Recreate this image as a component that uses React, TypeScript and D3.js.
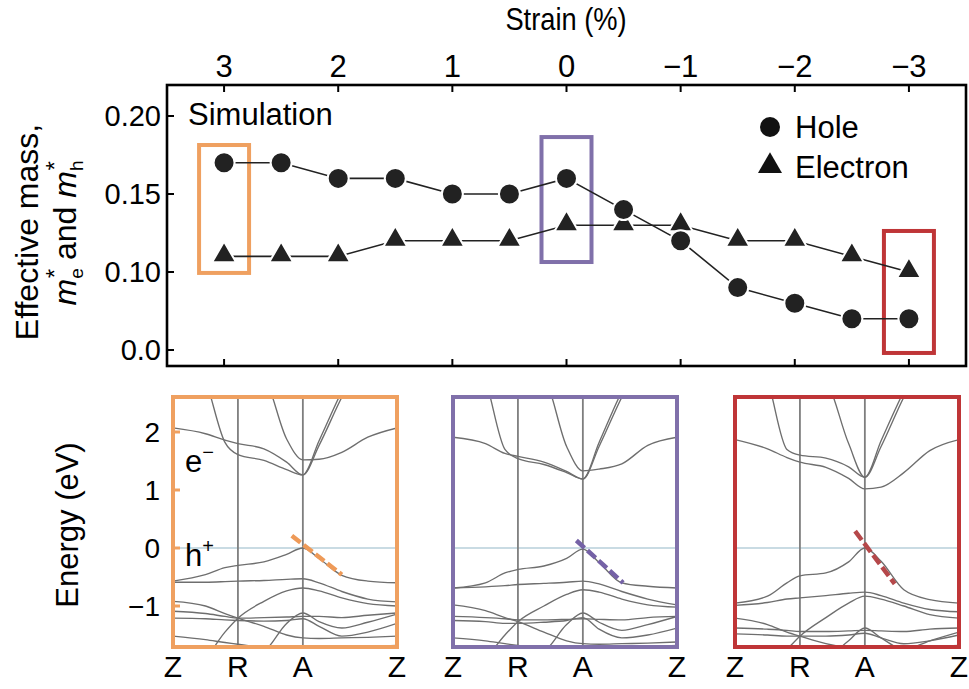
import React from 'react';
import * as d3 from 'd3';

// ---- top panel data (effective mass vs strain) ----
const strain = [3, 2.5, 2, 1.5, 1, 0.5, 0, -0.5, -1, -1.5, -2, -2.5, -3];
const holeMass = [0.17, 0.17, 0.16, 0.16, 0.15, 0.15, 0.16, 0.14, 0.12, 0.09, 0.08, 0.07, 0.07];
const electronMass = [0.11, 0.11, 0.11, 0.12, 0.12, 0.12, 0.13, 0.13, 0.13, 0.12, 0.12, 0.11, 0.1];
const strainTicks = [3, 2, 1, 0, -1, -2, -3];
const strainTickLabels = ['3', '2', '1', '0', '\u22121', '\u22122', '\u22123'];
const massTicks = [0.05, 0.1, 0.15, 0.2];
const massTickLabels = ['0.0', '0.10', '0.15', '0.20'];

// highlighted strain points: [strain, mass low, mass high]
const highlightStrain = [3, 0, -3];
const highlightLow = [0.0994, 0.1064, 0.0481];
const highlightHigh = [0.1814, 0.1865, 0.1263];
const panelColors = ['#EFA060', '#8070AA', '#BF3537'];
const dashColors = ['#EE9A58', '#7562A6', '#B5484A'];

// ---- bottom panels: band structures along Z-R-A-Z ----
const kPath = [0, 0.5, 0.8, 1, 1.4, 1.75, 2, 2.25, 2.6, 3.0, 3.45];
const kSymbols = [0, 1, 2, 3.45];
const kLabels = ['Z', 'R', 'A', 'Z'];
const energyTicks = [2, 1, 0, -1];
const energyTickLabels = ['2', '1', '0', '\u22121'];

const bandsTensile = [
  [2.07, 1.97, 1.86, 1.8, 1.71, 1.48, 1.26, 1.77, 2.6, 3.4, 4.0],
  [3.8, 2.9, 1.82, 1.61, 1.51, 1.35, 1.26, 1.85, 2.7, 3.5, 4.0],
  [4.0, 3.8, 3.5, 3.2, 2.95, 1.88, 1.52, 1.53, 1.65, 1.91, 2.07],
  [-0.57, -0.46, -0.34, -0.3, -0.24, -0.11, 0.0, -0.18, -0.47, -0.57, -0.6],
  [-0.59, -0.59, -0.58, -0.57, -0.56, -0.54, -0.53, -0.6, -0.75, -0.88, -0.93],
  [-2.2, -1.9, -1.45, -1.21, -0.92, -0.74, -0.69, -0.74, -0.86, -0.96, -1.0],
  [-0.92, -1.0, -1.13, -1.21, -1.35, -1.5, -1.55, -1.56, -1.55, -1.54, -1.52],
  [-1.09, -1.13, -1.18, -1.21, -1.2, -1.19, -1.18, -1.18, -1.2, -1.16, -1.12],
  [-1.95, -1.95, -1.93, -1.9, -1.78, -1.3, -1.12, -1.27, -1.38, -1.28, -1.14],
  [-1.21, -1.22, -1.24, -1.25, -1.26, -1.25, -1.22, -1.35, -1.52, -1.45, -1.3],
  [-1.52, -1.58, -1.63, -1.66, -1.72, -1.76, -1.78, -1.76, -1.72, -1.7, -1.68],
];

const bandsZero = [
  [1.91, 1.8, 1.63, 1.58, 1.48, 1.32, 1.19, 1.75, 2.6, 3.4, 4.0],
  [3.8, 2.9, 1.7, 1.54, 1.44, 1.3, 1.19, 1.82, 2.7, 3.5, 4.0],
  [4.0, 3.8, 3.5, 3.2, 2.95, 1.75, 1.33, 1.36, 1.45, 1.77, 1.91],
  [-0.69, -0.6, -0.43, -0.37, -0.31, -0.18, -0.02, -0.25, -0.6, -0.66, -0.69],
  [-0.69, -0.67, -0.65, -0.63, -0.61, -0.59, -0.57, -0.62, -0.75, -0.88, -0.98],
  [-2.2, -1.9, -1.5, -1.27, -1.0, -0.8, -0.72, -0.76, -0.88, -0.98, -1.02],
  [-0.98, -1.08, -1.2, -1.27, -1.45, -1.6, -1.65, -1.66, -1.65, -1.64, -1.62],
  [-1.18, -1.2, -1.22, -1.24, -1.24, -1.23, -1.22, -1.23, -1.24, -1.2, -1.18],
  [-1.95, -1.95, -1.93, -1.9, -1.78, -1.32, -1.12, -1.28, -1.42, -1.32, -1.18],
  [-1.25, -1.27, -1.3, -1.3, -1.28, -1.25, -1.2, -1.4, -1.55, -1.5, -1.38],
  [-1.55, -1.6, -1.65, -1.68, -1.72, -1.75, -1.77, -1.75, -1.72, -1.7, -1.68],
];

const bandsCompressive = [
  [1.87, 1.71, 1.56, 1.48, 1.39, 1.2, 1.02, 1.05, 1.3, 1.68, 1.87],
  [3.8, 2.9, 1.7, 1.6, 1.55, 1.4, 1.22, 1.75, 2.6, 3.4, 4.0],
  [4.0, 3.8, 3.5, 3.2, 2.9, 1.8, 1.22, 1.85, 2.7, 3.5, 4.0],
  [-0.95, -0.83, -0.6, -0.48, -0.43, -0.24, 0.0, -0.23, -0.72, -0.89, -0.95],
  [-0.99, -0.94, -0.88, -0.86, -0.82, -0.78, -0.76, -0.82, -0.95, -1.06, -1.1],
  [-2.4, -2.1, -1.75, -1.52, -1.2, -0.95, -0.83, -0.88, -1.0, -1.15, -1.21],
  [-1.21, -1.32, -1.45, -1.52, -1.65, -1.72, -1.75, -1.74, -1.72, -1.7, -1.68],
  [-1.38, -1.4, -1.42, -1.44, -1.44, -1.43, -1.42, -1.43, -1.44, -1.4, -1.38],
  [-2.2, -2.2, -2.1, -2.0, -1.9, -1.6, -1.38, -1.55, -1.75, -1.6, -1.45],
  [-1.48, -1.5, -1.52, -1.52, -1.52, -1.5, -1.47, -1.55, -1.65, -1.6, -1.5],
];

const panelBands = [bandsTensile, bandsZero, bandsCompressive];

// dashed effective-mass fits near A: [k start, k end], [E start, E end]
const fitK = [[1.83, 2.6], [1.9, 2.62], [1.85, 2.46]];
const fitE = [[0.21, -0.46], [0.13, -0.6], [0.29, -0.62]];

const FONT = 'Liberation Sans, Arial, Helvetica, sans-serif';

export default function App() {
  const W = 969;
  const H = 689;

  // top panel frame
  const fL = 167, fR = 966, fT = 85, fB = 366;
  const x = d3.scaleLinear().domain([3.5, -3.5]).range([fL, fR]);
  const y = d3.scaleLinear().domain([0.05, 0.2]).range([350, 116]);

  const holePts = strain.map((s, i) => [x(s), y(holeMass[i])] as [number, number]);
  const elecPts = strain.map((s, i) => [x(s), y(electronMass[i])] as [number, number]);
  const line = d3.line();
  const tri = d3.symbol().type(d3.symbolTriangle).size(250);

  // bottom panels
  const panelLeft = [173, 453, 735];
  const panelW = 224;
  const pT = 397, pB = 647;
  const ey = d3.scaleLinear().domain([-1, 2]).range([606, 432]);

  return (
    <svg width={W} height={H} style={{ position: 'absolute', left: 0, top: 0, background: '#fff' }}
      fontFamily={FONT}>
      <rect width={W} height={H} fill="#fff" />

      {/* ---------- top panel ---------- */}
      <text transform="translate(566,30) scale(0.88,1)" fontSize={31} textAnchor="middle">Strain (%)</text>
      {strainTicks.map((s, i) => (
        <g key={'st' + i}>
          <text x={x(s)} y={77} fontSize={31} textAnchor="middle">{strainTickLabels[i]}</text>
          <line x1={x(s)} x2={x(s)} y1={fT} y2={fT + 7} stroke="#000" strokeWidth={2} />
          <line x1={x(s)} x2={x(s)} y1={fB} y2={fB - 7} stroke="#000" strokeWidth={2} />
        </g>
      ))}
      {massTicks.map((m, i) => (
        <g key={'mt' + i}>
          <text x={161} y={y(m) + 10} fontSize={29} textAnchor="end">{massTickLabels[i]}</text>
          <line x1={fL} x2={fL + 7} y1={y(m)} y2={y(m)} stroke="#000" strokeWidth={2} />
        </g>
      ))}
      <rect x={fL} y={fT} width={fR - fL} height={fB - fT} fill="none" stroke="#000" strokeWidth={2.6} />

      <text transform="translate(38,232) rotate(-90)" fontSize={32} textAnchor="middle">Effective mass,</text>
      <text transform="translate(76,233) rotate(-90)" fontSize={32} textAnchor="middle">
        <tspan fontStyle="italic">m</tspan>
        <tspan fontSize={19} dy={7}>e</tspan>
        <tspan fontSize={24} dx={-10} dy={-20}>*</tspan>
        <tspan dy={13}> and </tspan>
        <tspan fontStyle="italic">m</tspan>
        <tspan fontSize={19} dy={7}>h</tspan>
        <tspan fontSize={24} dx={-10} dy={-20}>*</tspan>
      </text>

      <text x={188} y={125} fontSize={31}>Simulation</text>

      {highlightStrain.map((s, i) => (
        <rect key={'hl' + i} x={x(s) - 25} y={y(highlightHigh[i])} width={50}
          height={y(highlightLow[i]) - y(highlightHigh[i])}
          fill="none" stroke={panelColors[i]} strokeWidth={4} />
      ))}

      <path d={line(elecPts) || ''} fill="none" stroke="#222" strokeWidth={1.6} />
      <path d={line(holePts) || ''} fill="none" stroke="#222" strokeWidth={1.6} />
      {elecPts.map((p, i) => (
        <path key={'e' + i} d={tri() || ''} transform={`translate(${p[0]},${p[1] - 1})`}
          fill="#222" stroke="#fff" strokeWidth={2} />
      ))}
      {holePts.map((p, i) => (
        <circle key={'h' + i} cx={p[0]} cy={p[1]} r={10.5} fill="#222" stroke="#fff" strokeWidth={2} />
      ))}

      {/* legend */}
      <circle cx={770} cy={127} r={10} fill="#111" />
      <text x={795} y={138} fontSize={31}>Hole</text>
      <path d={tri() || ''} transform="translate(770,166)" fill="#111" />
      <text x={795} y={178} fontSize={31}>Electron</text>

      {/* ---------- bottom panels ---------- */}
      <text transform="translate(78,525) rotate(-90)" fontSize={31} textAnchor="middle">Energy (eV)</text>
      {energyTicks.map((e, i) => (
        <text key={'et' + i} x={160} y={ey(e) + 10} fontSize={28} textAnchor="end">{energyTickLabels[i]}</text>
      ))}

      {panelBands.map((bands, p) => {
        const left = panelLeft[p];
        const kx = d3.scaleLinear().domain([0, 3.45]).range([left, left + panelW]);
        const band = d3.line<number>()
          .x((_, i) => kx(kPath[i]))
          .y(d => ey(d))
          .curve(d3.curveMonotoneX);
        const clipId = 'clip' + p;
        return (
          <g key={'panel' + p}>
            <defs>
              <clipPath id={clipId}>
                <rect x={left} y={pT} width={panelW} height={pB - pT} />
              </clipPath>
            </defs>
            <g clipPath={`url(#${clipId})`}>
              <line x1={left} x2={left + panelW} y1={ey(0)} y2={ey(0)} stroke="#c9dbe3" strokeWidth={1.8} />
              {kSymbols.slice(1, 3).map((k, i) => (
                <line key={'v' + i} x1={kx(k)} x2={kx(k)} y1={pT} y2={pB} stroke="#7e7e7e" strokeWidth={1.8} />
              ))}
              {bands.map((b, i) => (
                <path key={'b' + i} d={band(b) || ''} fill="none" stroke="#6e6e6e" strokeWidth={1.35} />
              ))}
              <line x1={kx(fitK[p][0])} y1={ey(fitE[p][0])} x2={kx(fitK[p][1])} y2={ey(fitE[p][1])}
                stroke={dashColors[p]} strokeWidth={4.5} strokeDasharray="11 4" />
            </g>
            {p === 0 && energyTicks.map((e, i) => (
              <line key={'tk' + i} x1={left} x2={left + 7} y1={ey(e)} y2={ey(e)} stroke={panelColors[0]} strokeWidth={3} />
            ))}
            <rect x={left} y={pT} width={panelW} height={pB - pT} fill="none" stroke={panelColors[p]} strokeWidth={4} />
            {kSymbols.map((k, i) => (
              <text key={'kl' + i} x={kx(k)} y={677} fontSize={30} textAnchor="middle">{kLabels[i]}</text>
            ))}
          </g>
        );
      })}

      <text x={185} y={472} fontSize={31}>e<tspan fontSize={20} dy={-13}>{'\u2212'}</tspan></text>
      <text x={185} y={566} fontSize={31}>h<tspan fontSize={20} dy={-13}>+</tspan></text>
    </svg>
  );
}
